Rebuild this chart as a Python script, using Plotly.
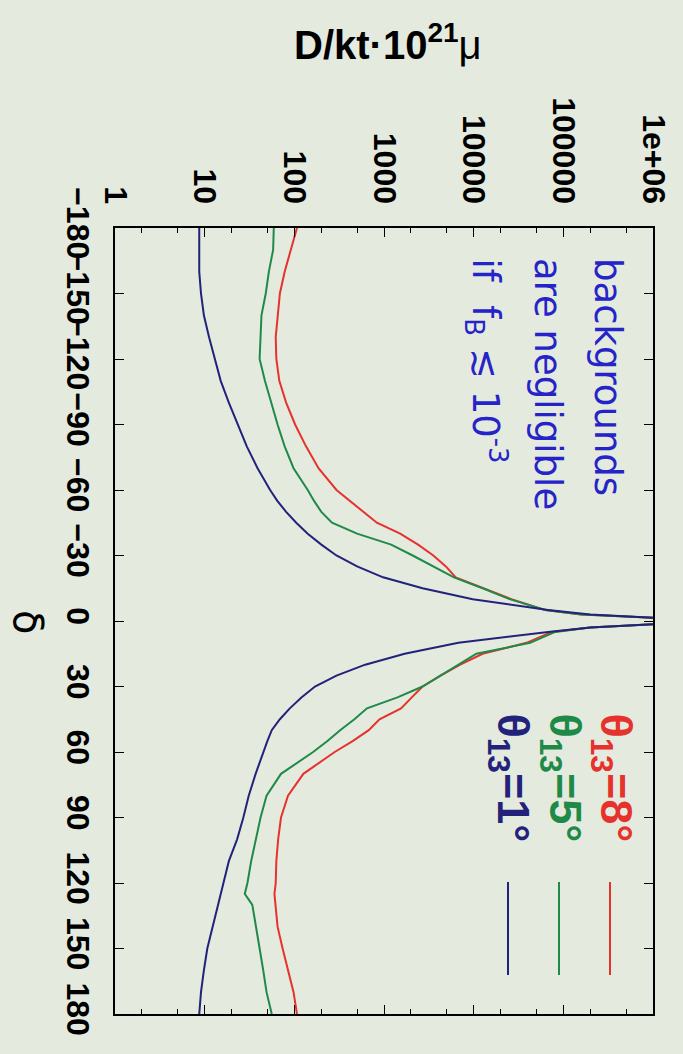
import plotly.graph_objects as go

# ---------------- data ----------------
delta = [-180, -170, -160, -150, -140, -130, -120, -110, -100, -90, -80, -70, -60, -55,
         -50, -45, -40, -35, -30, -25, -20, -15, -10, -5, -3, -1.5, 0,
         1.5, 3, 5, 10, 15, 20, 25, 30, 35, 40, 45, 50, 55, 60, 70, 80, 90, 100,
         110, 120, 125, 130, 140, 150, 160, 170, 180]

D_theta8 = [107, 91, 78, 69, 65, 62, 63, 68, 81, 102, 135, 186, 295, 417,
            603, 832, 1514, 2399, 3548, 4898, 6310, 12589, 26303, 63096, 158489, 1000000, 1e8,
            1000000, 199526, 74131, 38905, 12589, 7079, 4266, 2692, 2042, 1549, 891, 676, 447, 282, 126, 85, 71, 66,
            63, 62, 60, 62, 65, 74, 85, 98, 107]
D_theta5 = [59, 58, 52, 48, 43, 42, 41, 47, 55, 65, 78, 98, 141, 166,
            200, 263, 501, 1202, 2089, 3548, 6026, 12589, 25119, 63096, 158489, 1000000, 1e8,
            1000000, 199526, 81283, 42658, 10715, 6761, 4266, 2692, 1413, 646, 468, 324, 234, 162, 71, 49, 42, 37,
            33, 30, 28, 34, 37, 41, 45, 49, 56]
D_theta1 = [8.7, 8.7, 8.7, 9.1, 9.8, 11.2, 12.9, 15.1, 18.6, 23.4, 29.5, 38.9, 53.7, 64.6,
            81, 105, 141, 200, 295, 501, 977, 2692, 9772, 67608, 199526, 1000000, 1e8,
            1000000, 199526, 67608, 6761, 1698, 617, 295, 170, 120, 89, 69, 56, 50, 45, 37, 31, 27, 23,
            18.6, 16.2, 15.1, 14.1, 12.3, 10.7, 9.8, 9.1, 8.7]

D_tickvals = [1, 10, 100, 1000, 10000, 100000, 1000000]
D_ticktext = ["1", "10", "100", "1000", "10000", "100000", "1e+06"]
delta_ticks = [-180, -150, -120, -90, -60, -30, 0, 30, 60, 90, 120, 150, 180]

series_names = ["θ<sub>13</sub>=8°", "θ<sub>13</sub>=5°", "θ<sub>13</sub>=1°"]
series_values = [D_theta8, D_theta5, D_theta1]
colors = ["#e6322d", "#1f8a48", "#22227a"]

note_lines = ["backgrounds", "are negligible", "if  f<sub>B</sub> ≲ 10<sup>-3</sup>"]

# ---------------- layout geometry ----------------
W, H = 683, 1054
L, R, T, B = 115, 653, 228, 1014
BG = "#e5eadf"


def px(x):
    return (x - L) / (R - L)


def py(y):
    return (B - y) / (B - T)


TICKFONT = dict(family="Liberation Sans Narrow, Liberation Sans, Arial, sans-serif",
                size=32, color="black", weight="bold")

fig = go.Figure()
for vals, col, name in zip(series_values, colors, series_names):
    fig.add_trace(go.Scatter(x=vals, y=delta, mode="lines", name=name,
                             line=dict(color=col, width=2), showlegend=False))

fig.update_layout(
    width=W, height=H,
    margin=dict(l=L, r=W - R, t=T, b=H - B, pad=0),
    paper_bgcolor=BG, plot_bgcolor=BG, showlegend=False,
)
fig.update_xaxes(
    type="log", range=[0, 6], side="top",
    tickmode="array", tickvals=D_tickvals, ticktext=D_ticktext, tickangle=90,
    ticks="inside", ticklen=9, tickcolor="black", tickwidth=1.2,
    showline=True, linecolor="black", linewidth=1.6, mirror="ticks",
    showgrid=False, zeroline=False, tickfont=TICKFONT, ticklabelstandoff=11,
    minor=dict(ticks="inside", ticklen=5, dtick="D2", tickcolor="black", showgrid=False),
)
fig.update_yaxes(
    range=[180, -180],
    tickmode="array", tickvals=delta_ticks, tickangle=90,
    ticks="inside", ticklen=9, tickcolor="black", tickwidth=1.2,
    showline=True, linecolor="black", linewidth=1.6, mirror="ticks",
    showgrid=False, zeroline=False, tickfont=TICKFONT, ticklabelstandoff=8,
)

ann = []
ann.append(dict(xref="paper", yref="paper", x=px(388), y=py(42), showarrow=False,
                text="D/kt·10<sup>21</sup><span style='font-weight:normal'>μ</span>",
                xanchor="center", yanchor="middle",
                font=dict(family="Liberation Sans, Arial, sans-serif", size=40, color="black", weight="bold")))
ann.append(dict(xref="paper", yref="paper", x=px(28), y=py(622), showarrow=False,
                text="δ", textangle=90, xanchor="center", yanchor="middle",
                font=dict(family="DejaVu Sans, sans-serif", size=40, color="black")))

leg_x_text = [613, 562, 510]
leg_x_line = [610, 559, 508]
for name, col, xt, xl in zip(series_names, colors, leg_x_text, leg_x_line):
    ann.append(dict(xref="paper", yref="paper", x=px(xt), y=py(711), showarrow=False,
                    text=name, textangle=90, xanchor="center", yanchor="top",
                    font=dict(family="Liberation Sans, Arial, sans-serif", size=45, color=col, weight="bold")))
    fig.add_shape(type="line", xref="paper", yref="paper",
                  x0=px(xl), x1=px(xl), y0=py(882), y1=py(975),
                  line=dict(color=col, width=2))

note_x = [608, 548, 486]
for txt, xx in zip(note_lines, note_x):
    ann.append(dict(xref="paper", yref="paper", x=px(xx), y=py(256), showarrow=False,
                    text=txt, textangle=90, xanchor="center", yanchor="top",
                    font=dict(family="DejaVu Sans, sans-serif", size=37, color="#2424c8")))

fig.update_layout(annotations=ann)
fig.write_html(
    "out.html",
    config={"displayModeBar": False},
    post_script=(
        "document.documentElement.style.margin='0';"
        "document.body.style.margin='0';"
        "document.body.style.padding='0';"
        "document.body.style.overflow='hidden';"
        "document.body.style.background='" + BG + "';"
    ),
)
